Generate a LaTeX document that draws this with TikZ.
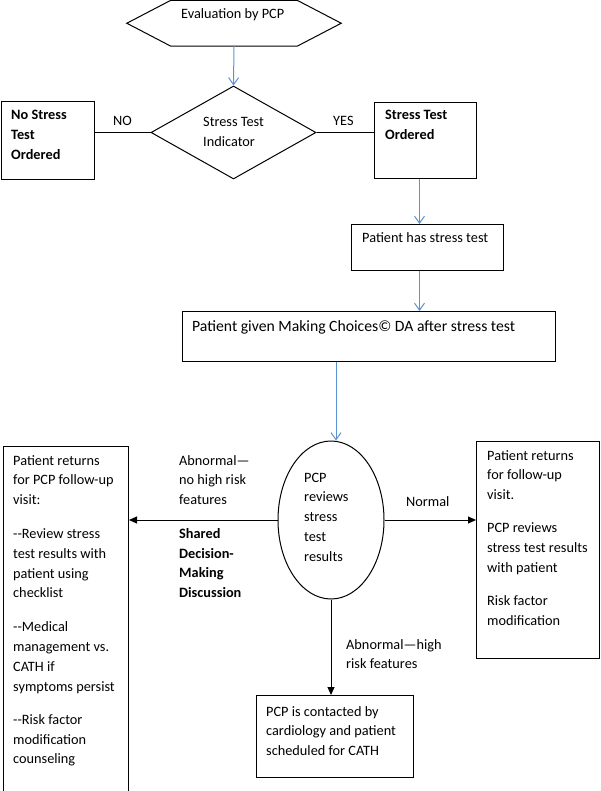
\documentclass[tikz,border=0pt]{standalone}
\usepackage{fontspec}
\setmainfont{Carlito}
\usetikzlibrary{arrows.meta,shapes.geometric,calc}
\definecolor{flowblue}{RGB}{91,146,210}
\newcommand{\mylines}[1]{\begin{tabular}[t]{@{}l@{}}#1\end{tabular}}
\begin{document}
\begin{tikzpicture}[x=1pt,y=-1pt,
  txt/.style={inner sep=0pt, anchor=base west, font=\fontsize{14.3}{19.8}\selectfont},
  boldtxt/.style={txt, font=\fontsize{14.3}{19.8}\selectfont\bfseries},
  box/.style={draw, line width=1pt, inner sep=0pt, anchor=north west},
  plain/.style={line width=1pt},
  blueline/.style={draw=flowblue, line width=1pt, -{Straight Barb[length=7pt,width=10pt]}},
  blackarrow/.style={line width=1pt, -{Triangle[length=8pt,width=7pt]}}]
\useasboundingbox (0,0) rectangle (600,791);

% shapes
\node[minimum width=214pt, minimum height=45.5pt, inner sep=0pt] (hex) at (234,23.25) {};
\draw[plain] (hex.west) -- ($(hex.north west)+(44,0)$) -- ($(hex.north east)+(-44,0)$)
  -- (hex.east) -- ($(hex.south east)+(-44,0)$) -- ($(hex.south west)+(44,0)$) -- cycle;
\node[diamond, draw, plain, minimum width=165pt, minimum height=93pt, aspect=1.774, inner sep=0pt] (ind) at (233.5,132.5) {};
\node[box, minimum width=93pt, minimum height=78pt] (nostress) at (1,101) {};
\node[box, minimum width=102pt, minimum height=76pt] (ordered) at (374,102) {};
\node[box, minimum width=152pt, minimum height=46pt] (hastest) at (351,224) {};
\node[box, minimum width=373pt, minimum height=50pt] (given) at (182,311) {};
\node[ellipse, draw, plain, minimum width=106pt, minimum height=158pt, inner sep=0pt] (rev) at (331,520) {};
\node[box, minimum width=125pt, minimum height=354pt] (leftbox) at (3,446) {};
\node[box, minimum width=122.5pt, minimum height=217pt] (rightbox) at (476,441) {};
\node[box, minimum width=157pt, minimum height=82pt] (cath) at (256,695) {};

% connectors
\draw[blueline] (hex.south) -- (ind.north);
\draw[plain] (ind.west) -- (ind.west -| nostress.east);
\draw[plain] (ind.east) -- (ind.east -| ordered.west);
\draw[blueline] ([xshift=-6pt]ordered.south) -- ([xshift=-6pt]ordered.south |- hastest.north);
\draw[blueline] ([xshift=-8pt]hastest.south) -- ([xshift=-8pt]hastest.south |- given.north);
\draw[blueline] ([xshift=5pt]rev.north |- given.south) -- ([xshift=5pt]rev.north);
\draw[blackarrow] (rev.west) -- (rev.west -| leftbox.east);
\draw[blackarrow] (rev.east) -- (rev.east -| rightbox.west);
\draw[blackarrow] (rev.south) -- (rev.south |- cath.north);

% texts
\node[txt] (t-hex) at (181,19) {Evaluation by PCP};
\node[txt] (t-ind) at (203,127) {\mylines{Stress Test\\Indicator}};
\node[txt] (t-no) at (113,126) {NO};
\node[txt] (t-yes) at (333,126) {YES};
\node[boldtxt] (t-nostress) at (11,120) {\mylines{No Stress\\Test\\Ordered}};
\node[boldtxt] (t-ordered) at (385,120) {\mylines{Stress Test\\Ordered}};
\node[txt] (t-hastest) at (362,243) {Patient has stress test};
\node[txt, font=\fontsize{15.7}{20}\selectfont] (t-given) at (192,331) {Patient given Making Choices© DA after stress test};
\node[txt] (t-rev) at (304,482) {\mylines{PCP\\reviews\\stress\\test\\results}};
\node[txt] (t-abn) at (179,465) {\mylines{Abnormal—\\no high risk\\features\\[13.8pt]
  \textbf{Shared}\\\textbf{Decision-}\\\textbf{Making}\\\textbf{Discussion}}};
\node[txt] (t-normal) at (406,506) {Normal};
\node[txt] (t-high) at (346,649) {\mylines{Abnormal—high\\risk features}};
\node[txt] (t-left) at (13,465) {\mylines{Patient returns\\for PCP follow-up\\visit:\\[14pt]
  -{}-Review stress\\test results with\\patient using\\checklist\\[14pt]
  -{}-Medical\\management vs.\\CATH if\\symptoms persist\\[13.5pt]
  -{}-Risk factor\\modification\\counseling}};
\node[txt] (t-right) at (487,460) {\mylines{Patient returns\\for follow-up\\visit.\\[13.2pt]
  PCP reviews\\stress test results\\with patient\\[13.2pt]
  Risk factor\\modification}};
\node[txt] (t-cath) at (266,716) {\mylines{PCP is contacted by\\cardiology and patient\\scheduled for CATH}};
\end{tikzpicture}
\end{document}
